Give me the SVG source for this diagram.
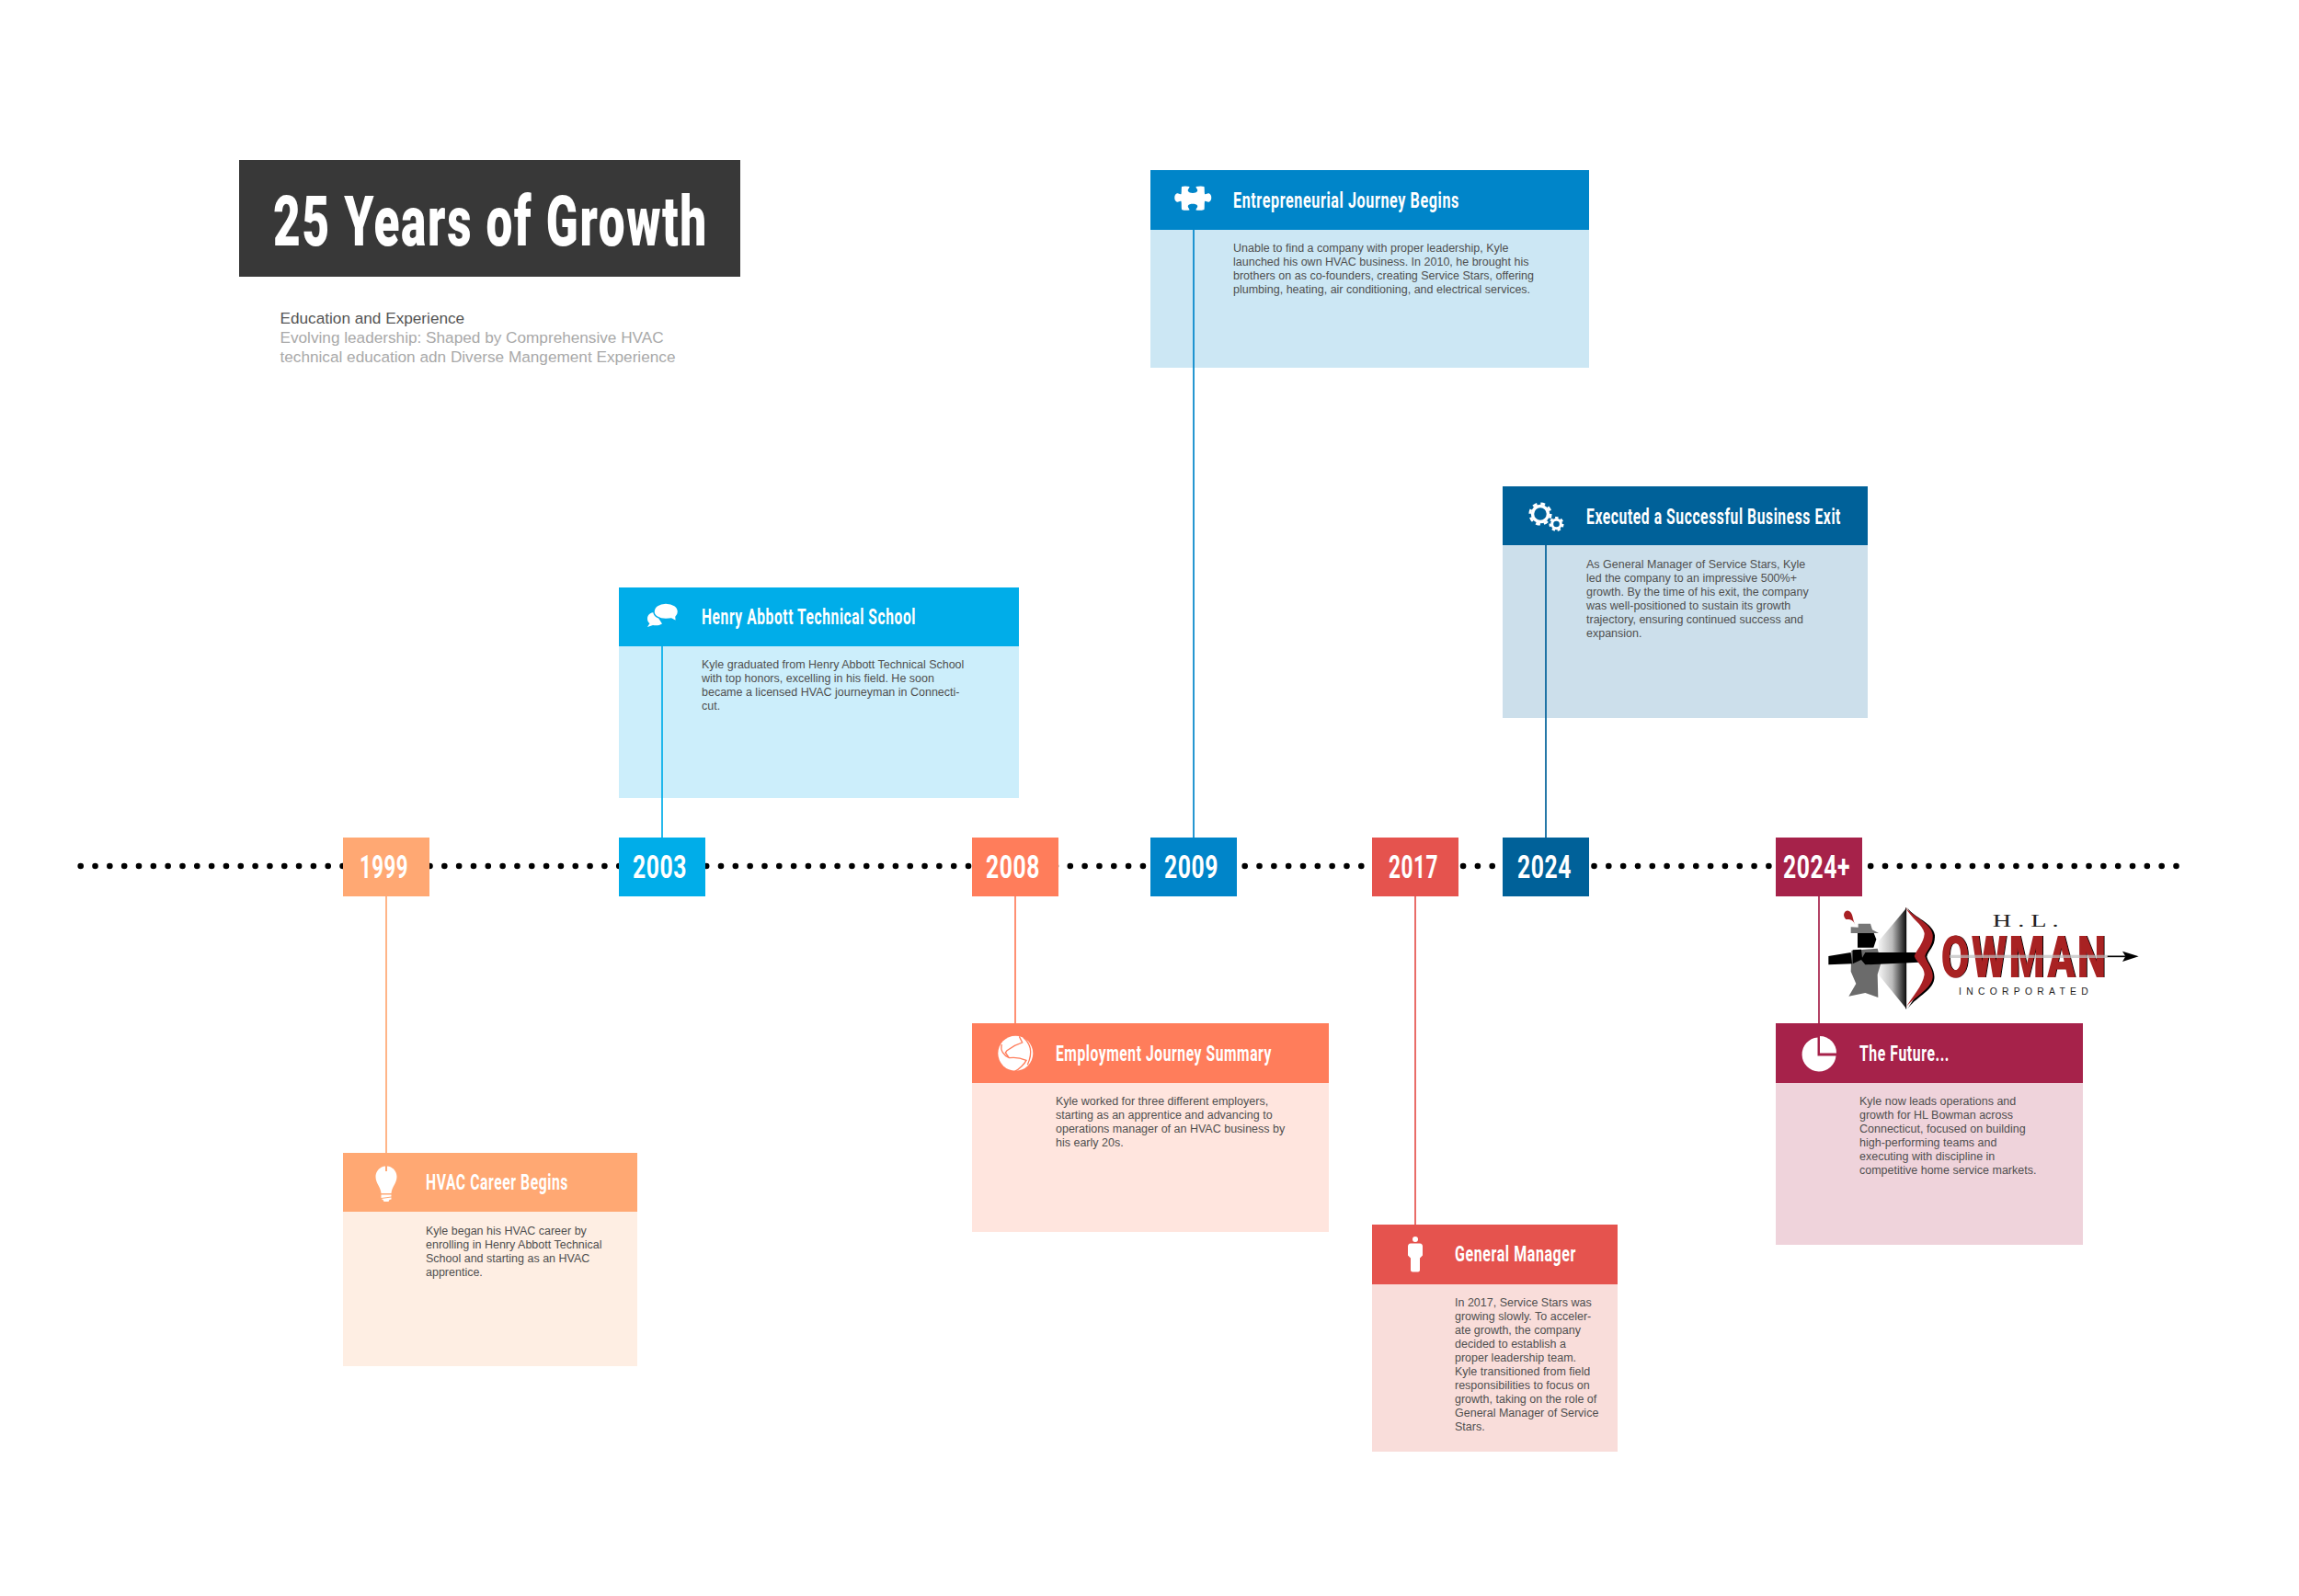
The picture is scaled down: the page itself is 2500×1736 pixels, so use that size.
<svg xmlns="http://www.w3.org/2000/svg" width="2500" height="1736" viewBox="0 0 2500 1736">
<style>
text{font-family:"Liberation Sans",Arial,sans-serif}
.hd,.yr,.ti,.ow{font-family:Roboto,"Liberation Sans",sans-serif;font-weight:700;fill:#fff}
.hd{font-size:24px;letter-spacing:.9px}
.yr{font-size:35px;letter-spacing:.8px}
.ti{font-size:76px;font-weight:900;letter-spacing:2.5px}
.bd{font-size:12.5px;fill:#4f4f4f}
.sub{font-size:17.2px;fill:#a9a9a9}
.ic{fill:#fff}
.cn{fill:none;stroke-width:1.7}
</style>
<defs>
<linearGradient id="fan" x1="0" x2="1" y1="0" y2="0"><stop offset="0" stop-color="#f4f4f4"/><stop offset=".5" stop-color="#bbb"/><stop offset="1" stop-color="#111"/></linearGradient>
<filter id="sh" x="-5%" y="-5%" width="115%" height="115%"><feOffset dx="1.5" dy="1" in="SourceAlpha" result="o"/><feMerge><feMergeNode in="o"/><feMergeNode in="SourceGraphic"/></feMerge></filter>
</defs>
<rect width="2500" height="1736" fill="#fff"/>
<g id="title">
<rect x="260" y="174" width="545" height="127" fill="#383838"/>
<text class="ti" x="297" y="267" textLength="473" lengthAdjust="spacingAndGlyphs">25 Years of Growth</text>
<text class="sub" x="304.500" y="352" style="fill:#555">Education and Experience</text>
<text class="sub" x="304.500" y="373">Evolving leadership: Shaped by Comprehensive HVAC</text>
<text class="sub" x="304.500" y="393.500">technical education adn Diverse Mangement Experience</text>
</g>
<g id="card1999">
<rect x="373" y="1318" width="320" height="168" fill="#FEEEE3"/><rect x="373" y="1254" width="320" height="64" fill="#FFA873"/>
<text class="hd" x="463" y="1294" textLength="155" lengthAdjust="spacingAndGlyphs">HVAC Career Begins</text>
<path class="ic" d="M419 1268.500V1274h2v-5.500C427 1269 431.500 1274 431.500 1280C431.500 1287 426 1291 425.500 1298H414.500C414 1291 408.500 1287 408.500 1280C408.500 1274 413 1269 419 1268.500Z"/>
<path class="ic" d="M414.500 1299.500h11v2l-11 1.500zM414.500 1304l11-1.500v2l-2 .5 -1 2h-5l-1-2z"/>
<text class="bd"><tspan x="463" y="1343">Kyle began his HVAC career by</tspan><tspan x="463" y="1358">enrolling in Henry Abbott Technical</tspan><tspan x="463" y="1373">School and starting as an HVAC</tspan><tspan x="463" y="1388">apprentice.</tspan></text>
</g>
<g id="card2003">
<rect x="673" y="703" width="435" height="165" fill="#CCEEFB"/><rect x="673" y="639" width="435" height="64" fill="#00ADE9"/>
<text class="hd" x="763" y="679" textLength="233" lengthAdjust="spacingAndGlyphs">Henry Abbott Technical School</text>
<path class="ic" d="M712 666c-5 0-8 3-8 7 0 2.500 1 4 2.500 5l-2.500 4 6-2c3 .5 7 .5 10-1.500z"/>
<path class="ic" stroke="#00ADE9" stroke-width="1.500" d="M724 656c8 0 13.500 4 13.500 9.500 0 2.500-1 4-2.500 5.500l.5 5 -5.500-3c-2 .5-4 .5-6 .5-7.500 0-13-3.500-13-8 0-5.500 5.500-9.500 13-9.500z"/>
<text class="bd"><tspan x="763" y="727">Kyle graduated from Henry Abbott Technical School</tspan><tspan x="763" y="742">with top honors, excelling in his field. He soon</tspan><tspan x="763" y="757">became a licensed HVAC journeyman in Connecti-</tspan><tspan x="763" y="772">cut.</tspan></text>
</g>
<g id="card2008">
<rect x="1057" y="1178" width="388" height="162" fill="#FFE5DE"/><rect x="1057" y="1113" width="388" height="65" fill="#FF7D5B"/>
<text class="hd" x="1148" y="1154" textLength="235" lengthAdjust="spacingAndGlyphs">Employment Journey Summary</text>
<circle class="ic" cx="1104.300" cy="1145.700" r="19"/>
<g transform="translate(1040 1100) scale(.33333)"><path fill="none" stroke="#FF7D5B" stroke-width="4" d="M148 108C142 128 155 145 172 152C185 150 205 150 228 160C222 172 205 190 190 196M205 82L215 102 190 112 165 128 160 135 172 152M218 85C240 105 252 130 232 175"/></g>
<text class="bd"><tspan x="1148" y="1202">Kyle worked for three different employers,</tspan><tspan x="1148" y="1217">starting as an apprentice and advancing to</tspan><tspan x="1148" y="1232">operations manager of an HVAC business by</tspan><tspan x="1148" y="1247">his early 20s.</tspan></text>
</g>
<g id="card2009">
<rect x="1251" y="250" width="477" height="150" fill="#CCE7F4"/><rect x="1251" y="185" width="477" height="65" fill="#0085C9"/>
<text class="hd" x="1341" y="226" textLength="246" lengthAdjust="spacingAndGlyphs">Entrepreneurial Journey Begins</text>
<path class="ic" d="M1285 203c3-1 6-.5 8.500 0 0 2-2.500 3-1.500 5 1 2.500 9 2.500 10 0 1-2-1.500-3-1.500-5 3-.5 6-1 9 0 .5 2.500 0 5 .5 8 1.500 1 3-1.500 5-.5 3 1.500 3 7.500 0 9-2 1-3.500-1.500-5-.5-.5 3 0 6-.5 9-3 1-6 1-9 .5 0-2 2.500-3 1.500-5-1-2.500-9-2.500-10 0-1 2 1.500 3 1.500 5-3 .5-6 .5-8.500-.5-.5-3 0-6-.5-9-1.500-1-3 1.500-5 .5-3-1.500-3-7.500 0-9 2-1 3.500 1.500 5 .5.500-3 0-5.500.500-8z"/>
<text class="bd"><tspan x="1341" y="274">Unable to find a company with proper leadership, Kyle</tspan><tspan x="1341" y="289">launched his own HVAC business. In 2010, he brought his</tspan><tspan x="1341" y="304">brothers on as co-founders, creating Service Stars, offering</tspan><tspan x="1341" y="319">plumbing, heating, air conditioning, and electrical services.</tspan></text>
</g>
<g id="card2017">
<rect x="1492" y="1397" width="267" height="182" fill="#F9DDDA"/><rect x="1492" y="1332" width="267" height="65" fill="#E5534E"/>
<text class="hd" x="1582" y="1372" textLength="132" lengthAdjust="spacingAndGlyphs">General Manager</text>
<circle class="ic" cx="1539" cy="1348" r="3"/>
<path class="ic" d="M1534 1352.500h10c2 0 3 1.500 3 3v10l-3 3v13c0 1-1 2-2 2h-6c-1 0-2-1-2-2v-13l-3-3v-10c0-1.500 1-3 3-3z"/>
<text class="bd"><tspan x="1582" y="1421">In 2017, Service Stars was</tspan><tspan x="1582" y="1436">growing slowly. To acceler-</tspan><tspan x="1582" y="1451">ate growth, the company</tspan><tspan x="1582" y="1466">decided to establish a</tspan><tspan x="1582" y="1481">proper leadership team.</tspan><tspan x="1582" y="1496">Kyle transitioned from field</tspan><tspan x="1582" y="1511">responsibilities to focus on</tspan><tspan x="1582" y="1526">growth, taking on the role of</tspan><tspan x="1582" y="1541">General Manager of Service</tspan><tspan x="1582" y="1556">Stars.</tspan></text>
</g>
<g id="card2024">
<rect x="1634" y="593" width="397" height="188" fill="#CCDFEB"/><rect x="1634" y="529" width="397" height="64" fill="#006199"/>
<text class="hd" x="1725" y="570" textLength="277" lengthAdjust="spacingAndGlyphs">Executed a Successful Business Exit</text>
<circle cx="1675" cy="559" r="8.500" fill="none" stroke="#fff" stroke-width="3.500"/>
<circle cx="1675" cy="559" r="11.200" fill="none" stroke="#fff" stroke-width="2.800" stroke-dasharray="4.800 4"/>
<circle cx="1692.500" cy="570" r="4.800" fill="none" stroke="#fff" stroke-width="3"/>
<circle cx="1692.500" cy="570" r="6.800" fill="none" stroke="#fff" stroke-width="2.500" stroke-dasharray="3.300 2.800"/>
<text class="bd"><tspan x="1725" y="618">As General Manager of Service Stars, Kyle</tspan><tspan x="1725" y="633">led the company to an impressive 500%+</tspan><tspan x="1725" y="648">growth. By the time of his exit, the company</tspan><tspan x="1725" y="663">was well-positioned to sustain its growth</tspan><tspan x="1725" y="678">trajectory, ensuring continued success and</tspan><tspan x="1725" y="693">expansion.</tspan></text>
</g>
<g id="card2024plus">
<rect x="1931" y="1178" width="334" height="176" fill="#EFD3DB"/><rect x="1931" y="1113" width="334" height="65" fill="#A6224A"/>
<text class="hd" x="2022" y="1154" textLength="98" lengthAdjust="spacingAndGlyphs">The Future...</text>
<path class="ic" d="M1976.500 1128.500A18.500 18.500 0 1 0 1996.500 1148.500H1976.500Z"/>
<path class="ic" d="M1979 1127A18 18 0 0 1 1997 1145.500L1979 1145.500Z"/>
<text class="bd"><tspan x="2022" y="1202">Kyle now leads operations and</tspan><tspan x="2022" y="1217">growth for HL Bowman across</tspan><tspan x="2022" y="1232">Connecticut, focused on building</tspan><tspan x="2022" y="1247">high-performing teams and</tspan><tspan x="2022" y="1262">executing with discipline in</tspan><tspan x="2022" y="1277">competitive home service markets.</tspan></text>
</g>
<g id="connectors">
<line id="timeline" x1="87.7" y1="942" x2="2367" y2="942" stroke="#000" stroke-width="6.600" stroke-linecap="round" stroke-dasharray="0 15.825" fill="none"/>
<line class="cn" stroke="#FFA873" x1="420" y1="975" x2="420" y2="1254"/>
<line class="cn" stroke="#00ADE9" x1="720" y1="911" x2="720" y2="703"/>
<line class="cn" stroke="#FF7D5B" x1="1104" y1="975" x2="1104" y2="1113"/>
<line class="cn" stroke="#0085C9" x1="1298" y1="911" x2="1298" y2="250"/>
<line class="cn" stroke="#E5534E" x1="1539" y1="975" x2="1539" y2="1332"/>
<line class="cn" stroke="#006199" x1="1681" y1="911" x2="1681" y2="593"/>
<line class="cn" stroke="#A6224A" x1="1978" y1="975" x2="1978" y2="1113"/>
</g>
<g id="y1999"><rect x="373" y="911" width="94" height="64" fill="#FFA873"/><text class="yr" x="391" y="955" textLength="53" lengthAdjust="spacingAndGlyphs">1999</text></g>
<g id="y2003"><rect x="673" y="911" width="94" height="64" fill="#00ADE9"/><text class="yr" x="688" y="955" textLength="59" lengthAdjust="spacingAndGlyphs">2003</text></g>
<g id="y2008"><rect x="1057" y="911" width="94" height="64" fill="#FF7D5B"/><text class="yr" x="1072" y="955" textLength="59" lengthAdjust="spacingAndGlyphs">2008</text></g>
<g id="y2009"><rect x="1251" y="911" width="94" height="64" fill="#0085C9"/><text class="yr" x="1266" y="955" textLength="59" lengthAdjust="spacingAndGlyphs">2009</text></g>
<g id="y2017"><rect x="1492" y="911" width="94" height="64" fill="#E5534E"/><text class="yr" x="1510" y="955" textLength="54" lengthAdjust="spacingAndGlyphs">2017</text></g>
<g id="y2024"><rect x="1634" y="911" width="94" height="64" fill="#006199"/><text class="yr" x="1650" y="955" textLength="59" lengthAdjust="spacingAndGlyphs">2024</text></g>
<g id="y2024plus"><rect x="1931" y="911" width="94" height="64" fill="#A6224A"/><text class="yr" x="1939" y="955" textLength="73" lengthAdjust="spacingAndGlyphs">2024+</text></g>
<g id="logo" transform="translate(1900 900) scale(.33333)">
<polygon points="518,265 428,372 428,480 518,590" fill="url(#fan)"/>
<path d="M340 402L425 395 437 440 425 480 427 555 385 540 331 551 355 510 338 470Z" fill="#6b6b6b"/>
<path d="M360 345H413L421 365 412 392H360Z" fill="#000"/>
<path d="M362 314H402L408 334 429 345 338 345V325L362 326Z" fill="#777"/>
<path d="M352 318C345 300 335 300 322 300C310 290 315 270 330 272C345 276 342 295 352 318Z" fill="#a82024"/>
<path d="M265 420L338 408 342 445 265 448ZM344 400L372 398 375 425 385 408 560 408 560 440 385 448 372 432 344 445Z" fill="#000"/>
<line x1="518" y1="262" x2="518" y2="592" stroke="#000" stroke-width="3"/>
<path d="M522 262C545 295 606 312 612 352C614 388 590 402 586 422C590 442 614 462 610 495C604 535 546 556 522 594C545 552 580 520 585 480C585 455 560 440 552 420C560 400 585 375 585 345C580 315 540 300 522 262Z" fill="#000"/>
<path d="M516 260C540 292 600 310 605 350C608 385 585 400 580 420C585 440 608 460 605 490C600 530 540 555 516 590C540 550 572 518 578 480C578 455 552 440 545 420C552 400 578 375 578 345C572 315 535 298 516 260Z" fill="#a82024"/>
<text class="ow" x="632" y="488" textLength="545" lengthAdjust="spacingAndGlyphs" filter="url(#sh)" style="font-size:190px;font-weight:900;fill:#a82024;letter-spacing:10px">OWMAN</text>
<line x1="660" y1="421" x2="1175" y2="421" stroke="#bdbdbd" stroke-opacity=".7" stroke-width="10"/>
<line x1="1175" y1="421" x2="1235" y2="421" stroke="#000" stroke-width="5"/>
<path d="M1224 404L1277 421 1224 438 1234 421Z" fill="#000"/>
<text x="800" y="325" textLength="216" lengthAdjust="spacingAndGlyphs" style="font-family:'Liberation Serif',serif;font-size:58px;fill:#222">H . L .</text>
<text x="690" y="545" textLength="422" lengthAdjust="spacing" style="font-size:31px;fill:#222">INCORPORATED</text>
</g>
</svg>
